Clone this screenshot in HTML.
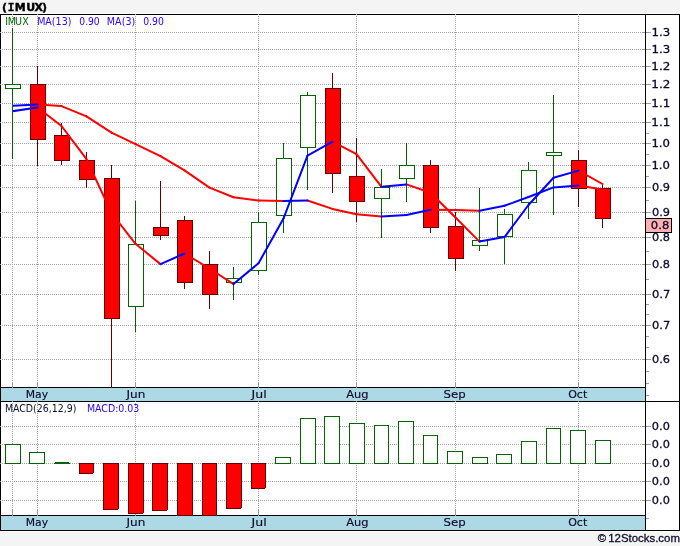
<!DOCTYPE html><html><head><meta charset="utf-8"><title>IMUX</title><style>html,body{margin:0;padding:0;background:#f4f4f4}svg{display:block}text{font-family:"DejaVu Sans","Liberation Sans",sans-serif}</style></head><body>
<svg width="680" height="546" viewBox="0 0 680 546">
<rect x="0" y="0" width="680" height="546" fill="#f4f4f4"/>
<rect x="0" y="13" width="680" height="519" fill="#ffffff"/>
<g shape-rendering="crispEdges">
<rect x="1" y="388" width="644" height="13" fill="#add8e6"/>
<rect x="1" y="516" width="644" height="14" fill="#add8e6"/>
<rect x="0" y="14" width="680" height="1" fill="#000"/>
<rect x="0" y="14" width="1" height="517" fill="#000"/>
<rect x="679" y="14" width="1" height="517" fill="#000"/>
<rect x="645" y="14" width="1" height="517" fill="#000"/>
<rect x="0" y="387" width="646" height="1" fill="#000"/>
<rect x="0" y="401" width="680" height="1" fill="#000"/>
<rect x="0" y="515" width="646" height="1" fill="#000"/>
<rect x="0" y="530" width="680" height="1" fill="#000"/>
<line x1="0" y1="32.5" x2="645" y2="32.5" stroke="#a0a0a0" stroke-width="1" stroke-dasharray="1,1"/>
<line x1="0" y1="49.5" x2="645" y2="49.5" stroke="#a0a0a0" stroke-width="1" stroke-dasharray="1,1"/>
<line x1="0" y1="66.5" x2="645" y2="66.5" stroke="#a0a0a0" stroke-width="1" stroke-dasharray="1,1"/>
<line x1="0" y1="84.5" x2="645" y2="84.5" stroke="#a0a0a0" stroke-width="1" stroke-dasharray="1,1"/>
<line x1="0" y1="103.5" x2="645" y2="103.5" stroke="#a0a0a0" stroke-width="1" stroke-dasharray="1,1"/>
<line x1="0" y1="122.5" x2="645" y2="122.5" stroke="#a0a0a0" stroke-width="1" stroke-dasharray="1,1"/>
<line x1="0" y1="143.5" x2="645" y2="143.5" stroke="#a0a0a0" stroke-width="1" stroke-dasharray="1,1"/>
<line x1="0" y1="165.5" x2="645" y2="165.5" stroke="#a0a0a0" stroke-width="1" stroke-dasharray="1,1"/>
<line x1="0" y1="187.5" x2="645" y2="187.5" stroke="#a0a0a0" stroke-width="1" stroke-dasharray="1,1"/>
<line x1="0" y1="212.5" x2="645" y2="212.5" stroke="#a0a0a0" stroke-width="1" stroke-dasharray="1,1"/>
<line x1="0" y1="237.5" x2="645" y2="237.5" stroke="#a0a0a0" stroke-width="1" stroke-dasharray="1,1"/>
<line x1="0" y1="264.5" x2="645" y2="264.5" stroke="#a0a0a0" stroke-width="1" stroke-dasharray="1,1"/>
<line x1="0" y1="294.5" x2="645" y2="294.5" stroke="#a0a0a0" stroke-width="1" stroke-dasharray="1,1"/>
<line x1="0" y1="325.5" x2="645" y2="325.5" stroke="#a0a0a0" stroke-width="1" stroke-dasharray="1,1"/>
<line x1="0" y1="359.5" x2="645" y2="359.5" stroke="#a0a0a0" stroke-width="1" stroke-dasharray="1,1"/>
<line x1="0" y1="426.5" x2="645" y2="426.5" stroke="#a0a0a0" stroke-width="1" stroke-dasharray="1,1"/>
<line x1="0" y1="444.5" x2="645" y2="444.5" stroke="#a0a0a0" stroke-width="1" stroke-dasharray="1,1"/>
<line x1="0" y1="463.5" x2="645" y2="463.5" stroke="#a0a0a0" stroke-width="1" stroke-dasharray="1,1"/>
<line x1="0" y1="481.5" x2="645" y2="481.5" stroke="#a0a0a0" stroke-width="1" stroke-dasharray="1,1"/>
<line x1="0" y1="500.5" x2="645" y2="500.5" stroke="#a0a0a0" stroke-width="1" stroke-dasharray="1,1"/>
<line x1="12.5" y1="14" x2="12.5" y2="382" stroke="#a0a0a0" stroke-width="1" stroke-dasharray="1,1"/>
<line x1="12.5" y1="403" x2="12.5" y2="509" stroke="#a0a0a0" stroke-width="1" stroke-dasharray="1,1"/>
<line x1="37.5" y1="14" x2="37.5" y2="382" stroke="#a0a0a0" stroke-width="1" stroke-dasharray="1,1"/>
<line x1="37.5" y1="403" x2="37.5" y2="509" stroke="#a0a0a0" stroke-width="1" stroke-dasharray="1,1"/>
<line x1="135.5" y1="14" x2="135.5" y2="382" stroke="#a0a0a0" stroke-width="1" stroke-dasharray="1,1"/>
<line x1="135.5" y1="403" x2="135.5" y2="509" stroke="#a0a0a0" stroke-width="1" stroke-dasharray="1,1"/>
<line x1="258.5" y1="14" x2="258.5" y2="382" stroke="#a0a0a0" stroke-width="1" stroke-dasharray="1,1"/>
<line x1="258.5" y1="403" x2="258.5" y2="509" stroke="#a0a0a0" stroke-width="1" stroke-dasharray="1,1"/>
<line x1="356.5" y1="14" x2="356.5" y2="382" stroke="#a0a0a0" stroke-width="1" stroke-dasharray="1,1"/>
<line x1="356.5" y1="403" x2="356.5" y2="509" stroke="#a0a0a0" stroke-width="1" stroke-dasharray="1,1"/>
<line x1="455.5" y1="14" x2="455.5" y2="382" stroke="#a0a0a0" stroke-width="1" stroke-dasharray="1,1"/>
<line x1="455.5" y1="403" x2="455.5" y2="509" stroke="#a0a0a0" stroke-width="1" stroke-dasharray="1,1"/>
<line x1="578.5" y1="14" x2="578.5" y2="382" stroke="#a0a0a0" stroke-width="1" stroke-dasharray="1,1"/>
<line x1="578.5" y1="403" x2="578.5" y2="509" stroke="#a0a0a0" stroke-width="1" stroke-dasharray="1,1"/>
<line x1="643" y1="32.5" x2="651" y2="32.5" stroke="#9c9c9c" stroke-width="1"/>
<line x1="643" y1="49.5" x2="651" y2="49.5" stroke="#9c9c9c" stroke-width="1"/>
<line x1="643" y1="66.5" x2="651" y2="66.5" stroke="#9c9c9c" stroke-width="1"/>
<line x1="643" y1="84.5" x2="651" y2="84.5" stroke="#9c9c9c" stroke-width="1"/>
<line x1="643" y1="103.5" x2="651" y2="103.5" stroke="#9c9c9c" stroke-width="1"/>
<line x1="643" y1="122.5" x2="651" y2="122.5" stroke="#9c9c9c" stroke-width="1"/>
<line x1="643" y1="143.5" x2="651" y2="143.5" stroke="#9c9c9c" stroke-width="1"/>
<line x1="643" y1="165.5" x2="651" y2="165.5" stroke="#9c9c9c" stroke-width="1"/>
<line x1="643" y1="187.5" x2="651" y2="187.5" stroke="#9c9c9c" stroke-width="1"/>
<line x1="643" y1="212.5" x2="651" y2="212.5" stroke="#9c9c9c" stroke-width="1"/>
<line x1="643" y1="237.5" x2="651" y2="237.5" stroke="#9c9c9c" stroke-width="1"/>
<line x1="643" y1="264.5" x2="651" y2="264.5" stroke="#9c9c9c" stroke-width="1"/>
<line x1="643" y1="294.5" x2="651" y2="294.5" stroke="#9c9c9c" stroke-width="1"/>
<line x1="643" y1="325.5" x2="651" y2="325.5" stroke="#9c9c9c" stroke-width="1"/>
<line x1="643" y1="359.5" x2="651" y2="359.5" stroke="#9c9c9c" stroke-width="1"/>
<line x1="643" y1="426.5" x2="651" y2="426.5" stroke="#9c9c9c" stroke-width="1"/>
<line x1="643" y1="444.5" x2="651" y2="444.5" stroke="#9c9c9c" stroke-width="1"/>
<line x1="643" y1="463.5" x2="651" y2="463.5" stroke="#9c9c9c" stroke-width="1"/>
<line x1="643" y1="481.5" x2="651" y2="481.5" stroke="#9c9c9c" stroke-width="1"/>
<line x1="643" y1="500.5" x2="651" y2="500.5" stroke="#9c9c9c" stroke-width="1"/>
<line x1="646" y1="133.5" x2="649" y2="133.5" stroke="#9c9c9c" stroke-width="1"/>
<line x1="646" y1="154.5" x2="649" y2="154.5" stroke="#9c9c9c" stroke-width="1"/>
<line x1="646" y1="176.5" x2="649" y2="176.5" stroke="#9c9c9c" stroke-width="1"/>
<line x1="646" y1="200.5" x2="649" y2="200.5" stroke="#9c9c9c" stroke-width="1"/>
<line x1="646" y1="251.5" x2="649" y2="251.5" stroke="#9c9c9c" stroke-width="1"/>
<line x1="646" y1="279.5" x2="649" y2="279.5" stroke="#9c9c9c" stroke-width="1"/>
<line x1="646" y1="304.5" x2="649" y2="304.5" stroke="#9c9c9c" stroke-width="1"/>
<line x1="646" y1="314.5" x2="649" y2="314.5" stroke="#9c9c9c" stroke-width="1"/>
<line x1="646" y1="336.5" x2="649" y2="336.5" stroke="#9c9c9c" stroke-width="1"/>
<line x1="646" y1="347.5" x2="649" y2="347.5" stroke="#9c9c9c" stroke-width="1"/>
<line x1="646" y1="371.5" x2="649" y2="371.5" stroke="#9c9c9c" stroke-width="1"/>
<line x1="646" y1="383.5" x2="649" y2="383.5" stroke="#9c9c9c" stroke-width="1"/>
<line x1="646" y1="395.5" x2="649" y2="395.5" stroke="#9c9c9c" stroke-width="1"/>
<line x1="646" y1="518.5" x2="649" y2="518.5" stroke="#9c9c9c" stroke-width="1"/>
<rect x="645" y="14" width="1" height="517" fill="#000"/>
<rect x="12" y="382" width="1" height="6" fill="#9c9c9c"/>
<rect x="12" y="401" width="1" height="1" fill="#9c9c9c"/>
<rect x="12" y="509" width="1" height="7" fill="#9c9c9c"/>
<rect x="37" y="382" width="1" height="6" fill="#9c9c9c"/>
<rect x="37" y="401" width="1" height="1" fill="#9c9c9c"/>
<rect x="37" y="509" width="1" height="7" fill="#9c9c9c"/>
<rect x="135" y="382" width="1" height="6" fill="#9c9c9c"/>
<rect x="135" y="401" width="1" height="1" fill="#9c9c9c"/>
<rect x="135" y="509" width="1" height="7" fill="#9c9c9c"/>
<rect x="258" y="382" width="1" height="6" fill="#9c9c9c"/>
<rect x="258" y="401" width="1" height="1" fill="#9c9c9c"/>
<rect x="258" y="509" width="1" height="7" fill="#9c9c9c"/>
<rect x="356" y="382" width="1" height="6" fill="#9c9c9c"/>
<rect x="356" y="401" width="1" height="1" fill="#9c9c9c"/>
<rect x="356" y="509" width="1" height="7" fill="#9c9c9c"/>
<rect x="455" y="382" width="1" height="6" fill="#9c9c9c"/>
<rect x="455" y="401" width="1" height="1" fill="#9c9c9c"/>
<rect x="455" y="509" width="1" height="7" fill="#9c9c9c"/>
<rect x="578" y="382" width="1" height="6" fill="#9c9c9c"/>
<rect x="578" y="401" width="1" height="1" fill="#9c9c9c"/>
<rect x="578" y="509" width="1" height="7" fill="#9c9c9c"/>
</g>
<g shape-rendering="crispEdges">
<rect x="12" y="28" width="1" height="131" fill="#006400"/>
<rect x="5.5" y="84.5" width="15" height="4" fill="#fff" stroke="#006400" stroke-width="1"/>
<rect x="37" y="66" width="1" height="100" fill="#660000"/>
<rect x="30.5" y="84.5" width="15" height="55" fill="#ff0000" stroke="#660000" stroke-width="1"/>
<rect x="61" y="123" width="1" height="42" fill="#660000"/>
<rect x="54.5" y="135.5" width="15" height="25" fill="#ff0000" stroke="#660000" stroke-width="1"/>
<rect x="86" y="152" width="1" height="36" fill="#660000"/>
<rect x="79.5" y="160.5" width="15" height="19" fill="#ff0000" stroke="#660000" stroke-width="1"/>
<rect x="111" y="165" width="1" height="223" fill="#660000"/>
<rect x="104.5" y="178.5" width="15" height="140" fill="#ff0000" stroke="#660000" stroke-width="1"/>
<rect x="135" y="201" width="1" height="131" fill="#006400"/>
<rect x="128.5" y="244.5" width="15" height="62" fill="#fff" stroke="#006400" stroke-width="1"/>
<rect x="160" y="181" width="1" height="59" fill="#660000"/>
<rect x="153.5" y="227.5" width="15" height="8" fill="#ff0000" stroke="#660000" stroke-width="1"/>
<rect x="184" y="216" width="1" height="73" fill="#660000"/>
<rect x="177.5" y="220.5" width="15" height="62" fill="#ff0000" stroke="#660000" stroke-width="1"/>
<rect x="209" y="251" width="1" height="58" fill="#660000"/>
<rect x="202.5" y="264.5" width="15" height="30" fill="#ff0000" stroke="#660000" stroke-width="1"/>
<rect x="233" y="267" width="1" height="33" fill="#006400"/>
<rect x="226.5" y="278.5" width="15" height="4" fill="#fff" stroke="#006400" stroke-width="1"/>
<rect x="258" y="212" width="1" height="63" fill="#006400"/>
<rect x="251.5" y="222.5" width="15" height="48" fill="#fff" stroke="#006400" stroke-width="1"/>
<rect x="283" y="143" width="1" height="90" fill="#006400"/>
<rect x="276.5" y="158.5" width="15" height="57" fill="#fff" stroke="#006400" stroke-width="1"/>
<rect x="307" y="92" width="1" height="98" fill="#006400"/>
<rect x="300.5" y="95.5" width="15" height="52" fill="#fff" stroke="#006400" stroke-width="1"/>
<rect x="332" y="73" width="1" height="120" fill="#660000"/>
<rect x="325.5" y="88.5" width="15" height="85" fill="#ff0000" stroke="#660000" stroke-width="1"/>
<rect x="356" y="138" width="1" height="84" fill="#660000"/>
<rect x="349.5" y="176.5" width="15" height="25" fill="#ff0000" stroke="#660000" stroke-width="1"/>
<rect x="381" y="169" width="1" height="69" fill="#006400"/>
<rect x="374.5" y="187.5" width="15" height="11" fill="#fff" stroke="#006400" stroke-width="1"/>
<rect x="406" y="143" width="1" height="59" fill="#006400"/>
<rect x="399.5" y="165.5" width="15" height="13" fill="#fff" stroke="#006400" stroke-width="1"/>
<rect x="430" y="160" width="1" height="73" fill="#660000"/>
<rect x="423.5" y="165.5" width="15" height="62" fill="#ff0000" stroke="#660000" stroke-width="1"/>
<rect x="455" y="212" width="1" height="59" fill="#660000"/>
<rect x="448.5" y="226.5" width="15" height="32" fill="#ff0000" stroke="#660000" stroke-width="1"/>
<rect x="479" y="188" width="1" height="63" fill="#006400"/>
<rect x="472.5" y="240.5" width="15" height="5" fill="#fff" stroke="#006400" stroke-width="1"/>
<rect x="504" y="209" width="1" height="55" fill="#006400"/>
<rect x="497.5" y="214.5" width="15" height="22" fill="#fff" stroke="#006400" stroke-width="1"/>
<rect x="528" y="162" width="1" height="57" fill="#006400"/>
<rect x="521.5" y="170.5" width="15" height="32" fill="#fff" stroke="#006400" stroke-width="1"/>
<rect x="553" y="95" width="1" height="120" fill="#006400"/>
<rect x="546.5" y="152.5" width="15" height="3" fill="#fff" stroke="#006400" stroke-width="1"/>
<rect x="578" y="150" width="1" height="57" fill="#660000"/>
<rect x="571.5" y="160.5" width="15" height="28" fill="#ff0000" stroke="#660000" stroke-width="1"/>
<rect x="602" y="183" width="1" height="45" fill="#660000"/>
<rect x="595.5" y="188.5" width="15" height="30" fill="#ff0000" stroke="#660000" stroke-width="1"/>
</g>
<clipPath id="lc"><rect x="13" y="15" width="591" height="372"/></clipPath><g clip-path="url(#lc)">
<line x1="37.5" y1="104.6" x2="61.5" y2="106.1" stroke="#ff0000" stroke-width="2" stroke-linecap="round"/>
<line x1="61.5" y1="106.1" x2="86.5" y2="116.4" stroke="#ff0000" stroke-width="2" stroke-linecap="round"/>
<line x1="86.5" y1="116.4" x2="111.5" y2="132.6" stroke="#ff0000" stroke-width="2" stroke-linecap="round"/>
<line x1="111.5" y1="132.6" x2="135.5" y2="144.1" stroke="#ff0000" stroke-width="2" stroke-linecap="round"/>
<line x1="135.5" y1="144.1" x2="160.5" y2="156.1" stroke="#ff0000" stroke-width="2" stroke-linecap="round"/>
<line x1="160.5" y1="156.1" x2="184.5" y2="170.4" stroke="#ff0000" stroke-width="2" stroke-linecap="round"/>
<line x1="184.5" y1="170.4" x2="209.5" y2="187.6" stroke="#ff0000" stroke-width="2" stroke-linecap="round"/>
<line x1="209.5" y1="187.6" x2="233.5" y2="197.3" stroke="#ff0000" stroke-width="2" stroke-linecap="round"/>
<line x1="233.5" y1="197.3" x2="258.5" y2="200.6" stroke="#ff0000" stroke-width="2" stroke-linecap="round"/>
<line x1="258.5" y1="200.6" x2="283.5" y2="201.1" stroke="#ff0000" stroke-width="2" stroke-linecap="round"/>
<line x1="307.5" y1="200.5" x2="332.5" y2="208.9" stroke="#ff0000" stroke-width="2" stroke-linecap="round"/>
<line x1="332.5" y1="208.9" x2="356.5" y2="214.2" stroke="#ff0000" stroke-width="2" stroke-linecap="round"/>
<line x1="356.5" y1="214.2" x2="381.5" y2="216.5" stroke="#ff0000" stroke-width="2" stroke-linecap="round"/>
<line x1="430.5" y1="209.8" x2="455.5" y2="210.1" stroke="#ff0000" stroke-width="2" stroke-linecap="round"/>
<line x1="455.5" y1="210.1" x2="479.5" y2="210.7" stroke="#ff0000" stroke-width="2" stroke-linecap="round"/>
<line x1="578.5" y1="185.6" x2="602.5" y2="189.5" stroke="#ff0000" stroke-width="2" stroke-linecap="round"/>
<line x1="37.5" y1="107.5" x2="61.5" y2="126" stroke="#ff0000" stroke-width="2" stroke-linecap="round"/>
<line x1="61.5" y1="126" x2="86.5" y2="159.1" stroke="#ff0000" stroke-width="2" stroke-linecap="round"/>
<line x1="86.5" y1="159.1" x2="111.5" y2="213" stroke="#ff0000" stroke-width="2" stroke-linecap="round"/>
<line x1="111.5" y1="213" x2="135.5" y2="243.8" stroke="#ff0000" stroke-width="2" stroke-linecap="round"/>
<line x1="135.5" y1="243.8" x2="160.5" y2="264.1" stroke="#ff0000" stroke-width="2" stroke-linecap="round"/>
<line x1="184.5" y1="253.5" x2="209.5" y2="268.5" stroke="#ff0000" stroke-width="2" stroke-linecap="round"/>
<line x1="209.5" y1="268.5" x2="233.5" y2="284.1" stroke="#ff0000" stroke-width="2" stroke-linecap="round"/>
<line x1="332.5" y1="141.7" x2="356.5" y2="154.2" stroke="#ff0000" stroke-width="2" stroke-linecap="round"/>
<line x1="356.5" y1="154.2" x2="381.5" y2="186.8" stroke="#ff0000" stroke-width="2" stroke-linecap="round"/>
<line x1="406.5" y1="184.4" x2="430.5" y2="192.7" stroke="#ff0000" stroke-width="2" stroke-linecap="round"/>
<line x1="430.5" y1="192.7" x2="455.5" y2="217.5" stroke="#ff0000" stroke-width="2" stroke-linecap="round"/>
<line x1="455.5" y1="217.5" x2="479.5" y2="241.6" stroke="#ff0000" stroke-width="2" stroke-linecap="round"/>
<line x1="578.5" y1="170.6" x2="602.5" y2="184" stroke="#ff0000" stroke-width="2" stroke-linecap="round"/>
<line x1="12.5" y1="105.8" x2="37.5" y2="104.6" stroke="#0000ff" stroke-width="2" stroke-linecap="round"/>
<line x1="283.5" y1="201.1" x2="307.5" y2="200.5" stroke="#0000ff" stroke-width="2" stroke-linecap="round"/>
<line x1="381.5" y1="216.5" x2="406.5" y2="215.0" stroke="#0000ff" stroke-width="2" stroke-linecap="round"/>
<line x1="406.5" y1="215.0" x2="430.5" y2="209.8" stroke="#0000ff" stroke-width="2" stroke-linecap="round"/>
<line x1="479.5" y1="210.7" x2="504.5" y2="205.8" stroke="#0000ff" stroke-width="2" stroke-linecap="round"/>
<line x1="504.5" y1="205.8" x2="528.5" y2="197" stroke="#0000ff" stroke-width="2" stroke-linecap="round"/>
<line x1="528.5" y1="197" x2="553.5" y2="187.4" stroke="#0000ff" stroke-width="2" stroke-linecap="round"/>
<line x1="553.5" y1="187.4" x2="578.5" y2="185.6" stroke="#0000ff" stroke-width="2" stroke-linecap="round"/>
<line x1="12.5" y1="111.2" x2="37.5" y2="107.5" stroke="#0000ff" stroke-width="2" stroke-linecap="round"/>
<line x1="160.5" y1="264.1" x2="184.5" y2="253.5" stroke="#0000ff" stroke-width="2" stroke-linecap="round"/>
<line x1="233.5" y1="284.1" x2="258.5" y2="263.3" stroke="#0000ff" stroke-width="2" stroke-linecap="round"/>
<line x1="258.5" y1="263.3" x2="283.5" y2="218.5" stroke="#0000ff" stroke-width="2" stroke-linecap="round"/>
<line x1="283.5" y1="218.5" x2="307.5" y2="155.7" stroke="#0000ff" stroke-width="2" stroke-linecap="round"/>
<line x1="307.5" y1="155.7" x2="332.5" y2="141.7" stroke="#0000ff" stroke-width="2" stroke-linecap="round"/>
<line x1="381.5" y1="186.8" x2="406.5" y2="184.4" stroke="#0000ff" stroke-width="2" stroke-linecap="round"/>
<line x1="479.5" y1="241.6" x2="504.5" y2="237.1" stroke="#0000ff" stroke-width="2" stroke-linecap="round"/>
<line x1="504.5" y1="237.1" x2="528.5" y2="205" stroke="#0000ff" stroke-width="2" stroke-linecap="round"/>
<line x1="528.5" y1="205" x2="553.5" y2="177.7" stroke="#0000ff" stroke-width="2" stroke-linecap="round"/>
<line x1="553.5" y1="177.7" x2="578.5" y2="170.6" stroke="#0000ff" stroke-width="2" stroke-linecap="round"/>
</g>
<g shape-rendering="crispEdges">
<rect x="5.5" y="444.5" width="15" height="19" fill="#fff" stroke="#006400" stroke-width="1"/>
<rect x="29.5" y="452.5" width="15" height="11" fill="#fff" stroke="#006400" stroke-width="1"/>
<rect x="55" y="462" width="14" height="1" fill="#006400"/><rect x="54" y="463" width="16" height="1" fill="#006400"/>
<rect x="79.5" y="463.5" width="14" height="10" fill="#ff0000" stroke="#660000" stroke-width="1"/>
<rect x="93" y="473" width="1" height="1" fill="#fff"/>
<rect x="103.5" y="463.5" width="15" height="46" fill="#ff0000" stroke="#660000" stroke-width="1"/>
<rect x="118" y="509" width="1" height="1" fill="#fff"/>
<rect x="128.5" y="463.5" width="15" height="50" fill="#ff0000" stroke="#660000" stroke-width="1"/>
<rect x="143" y="513" width="1" height="1" fill="#fff"/>
<rect x="152.5" y="463.5" width="15" height="47" fill="#ff0000" stroke="#660000" stroke-width="1"/>
<rect x="167" y="510" width="1" height="1" fill="#fff"/>
<rect x="177.5" y="463.5" width="15" height="52" fill="#ff0000" stroke="#660000" stroke-width="1"/>
<rect x="202.5" y="463.5" width="14" height="52" fill="#ff0000" stroke="#660000" stroke-width="1"/>
<rect x="226.5" y="463.5" width="15" height="45" fill="#ff0000" stroke="#660000" stroke-width="1"/>
<rect x="241" y="508" width="1" height="1" fill="#fff"/>
<rect x="251.5" y="463.5" width="14" height="25" fill="#ff0000" stroke="#660000" stroke-width="1"/>
<rect x="265" y="488" width="1" height="1" fill="#fff"/>
<rect x="275.5" y="457.5" width="15" height="6" fill="#fff" stroke="#006400" stroke-width="1"/>
<rect x="300.5" y="418.5" width="15" height="45" fill="#fff" stroke="#006400" stroke-width="1"/>
<rect x="324.5" y="416.5" width="15" height="47" fill="#fff" stroke="#006400" stroke-width="1"/>
<rect x="349.5" y="423.5" width="15" height="40" fill="#fff" stroke="#006400" stroke-width="1"/>
<rect x="374.5" y="425.5" width="14" height="38" fill="#fff" stroke="#006400" stroke-width="1"/>
<rect x="398.5" y="421.5" width="15" height="42" fill="#fff" stroke="#006400" stroke-width="1"/>
<rect x="423.5" y="435.5" width="14" height="28" fill="#fff" stroke="#006400" stroke-width="1"/>
<rect x="447.5" y="451.5" width="15" height="12" fill="#fff" stroke="#006400" stroke-width="1"/>
<rect x="472.5" y="457.5" width="15" height="6" fill="#fff" stroke="#006400" stroke-width="1"/>
<rect x="496.5" y="454.5" width="15" height="9" fill="#fff" stroke="#006400" stroke-width="1"/>
<rect x="521.5" y="441.5" width="15" height="22" fill="#fff" stroke="#006400" stroke-width="1"/>
<rect x="546.5" y="428.5" width="14" height="35" fill="#fff" stroke="#006400" stroke-width="1"/>
<rect x="570.5" y="430.5" width="15" height="33" fill="#fff" stroke="#006400" stroke-width="1"/>
<rect x="595.5" y="440.5" width="15" height="23" fill="#fff" stroke="#006400" stroke-width="1"/>
</g>
<g shape-rendering="crispEdges"><rect x="645.5" y="218.5" width="26" height="14" fill="#ffb0b0" stroke="#000" stroke-width="1"/></g>
<text x="2.05 7.74 14.63 26.23 34.61 42.07" y="11" font-size="11" font-weight="bold" fill="#000" stroke="#000" stroke-width="0.4">(<tspan font-family="DejaVu Sans Mono, Liberation Mono, monospace">I</tspan>MUX)</text>
<text x="5.13 7.73 14.99 22.17" y="25.2" font-size="9.6" fill="#006400">IMUX</text>
<text x="37.17" y="25.2" font-size="9.6" fill="#2a00ff" stroke="#2a00ff" stroke-width="0" textLength="34.25" lengthAdjust="spacingAndGlyphs">MA(13)</text>
<text x="79.30" y="25.2" font-size="9.6" fill="#2a00ff" stroke="#2a00ff" stroke-width="0" textLength="20.41" lengthAdjust="spacingAndGlyphs">0.90</text>
<text x="106.86" y="25.2" font-size="9.6" fill="#2a00ff" stroke="#2a00ff" stroke-width="0" textLength="28.36" lengthAdjust="spacingAndGlyphs">MA(3)</text>
<text x="143.19" y="25.2" font-size="9.6" fill="#2a00ff" stroke="#2a00ff" stroke-width="0" textLength="20.73" lengthAdjust="spacingAndGlyphs">0.90</text>
<text x="4.88" y="412" font-size="9.6" fill="#0c0c2c" stroke="#0c0c2c" stroke-width="0" textLength="71.53" lengthAdjust="spacingAndGlyphs">MACD(26,12,9)</text>
<text x="86.88" y="412" font-size="9.6" fill="#2a00ff" stroke="#2a00ff" stroke-width="0" textLength="52.48" lengthAdjust="spacingAndGlyphs">MACD:0.03</text>
<text x="651.41" y="36" font-size="11" fill="#0c0c2c" stroke="#0c0c2c" stroke-width="0.3" textLength="18.74" lengthAdjust="spacingAndGlyphs">1.3</text>
<text x="651.41" y="53" font-size="11" fill="#0c0c2c" stroke="#0c0c2c" stroke-width="0.3" textLength="18.74" lengthAdjust="spacingAndGlyphs">1.3</text>
<text x="651.39" y="70" font-size="11" fill="#0c0c2c" stroke="#0c0c2c" stroke-width="0.3" textLength="19.01" lengthAdjust="spacingAndGlyphs">1.2</text>
<text x="651.39" y="88" font-size="11" fill="#0c0c2c" stroke="#0c0c2c" stroke-width="0.3" textLength="19.01" lengthAdjust="spacingAndGlyphs">1.2</text>
<text x="651.39" y="107" font-size="11" fill="#0c0c2c" stroke="#0c0c2c" stroke-width="0.3" textLength="18.90" lengthAdjust="spacingAndGlyphs">1.1</text>
<text x="651.39" y="126" font-size="11" fill="#0c0c2c" stroke="#0c0c2c" stroke-width="0.3" textLength="18.90" lengthAdjust="spacingAndGlyphs">1.1</text>
<text x="651.42" y="147" font-size="11" fill="#0c0c2c" stroke="#0c0c2c" stroke-width="0.3" textLength="18.56" lengthAdjust="spacingAndGlyphs">1.0</text>
<text x="651.42" y="169" font-size="11" fill="#0c0c2c" stroke="#0c0c2c" stroke-width="0.3" textLength="18.56" lengthAdjust="spacingAndGlyphs">1.0</text>
<text x="651.95" y="191" font-size="11" fill="#0c0c2c" stroke="#0c0c2c" stroke-width="0.3" textLength="18.05" lengthAdjust="spacingAndGlyphs">0.9</text>
<text x="651.95" y="216" font-size="11" fill="#0c0c2c" stroke="#0c0c2c" stroke-width="0.3" textLength="18.05" lengthAdjust="spacingAndGlyphs">0.9</text>
<text x="651.95" y="241" font-size="11" fill="#0c0c2c" stroke="#0c0c2c" stroke-width="0.3" textLength="18.02" lengthAdjust="spacingAndGlyphs">0.8</text>
<text x="651.95" y="268" font-size="11" fill="#0c0c2c" stroke="#0c0c2c" stroke-width="0.3" textLength="18.02" lengthAdjust="spacingAndGlyphs">0.8</text>
<text x="651.94" y="298" font-size="11" fill="#0c0c2c" stroke="#0c0c2c" stroke-width="0.3" textLength="18.24" lengthAdjust="spacingAndGlyphs">0.7</text>
<text x="651.94" y="329" font-size="11" fill="#0c0c2c" stroke="#0c0c2c" stroke-width="0.3" textLength="18.24" lengthAdjust="spacingAndGlyphs">0.7</text>
<text x="651.96" y="363" font-size="11" fill="#0c0c2c" stroke="#0c0c2c" stroke-width="0.3" textLength="17.96" lengthAdjust="spacingAndGlyphs">0.6</text>
<text x="651.85" y="430" font-size="11" fill="#0c0c2c" stroke="#0c0c2c" stroke-width="0.3" textLength="18.00" lengthAdjust="spacingAndGlyphs">0.0</text>
<text x="651.85" y="448" font-size="11" fill="#0c0c2c" stroke="#0c0c2c" stroke-width="0.3" textLength="18.00" lengthAdjust="spacingAndGlyphs">0.0</text>
<text x="651.85" y="467" font-size="11" fill="#0c0c2c" stroke="#0c0c2c" stroke-width="0.3" textLength="18.00" lengthAdjust="spacingAndGlyphs">0.0</text>
<text x="651.85" y="485" font-size="11" fill="#0c0c2c" stroke="#0c0c2c" stroke-width="0.3" textLength="18.00" lengthAdjust="spacingAndGlyphs">0.0</text>
<text x="651.85" y="504" font-size="11" fill="#0c0c2c" stroke="#0c0c2c" stroke-width="0.3" textLength="18.00" lengthAdjust="spacingAndGlyphs">0.0</text>
<text x="650.83" y="229" font-size="11" fill="#0c0c2c" stroke="#0c0c2c" stroke-width="0.3" textLength="18.46" lengthAdjust="spacingAndGlyphs">0.8</text>
<text x="25.74" y="398" font-size="11" fill="#0c0c2c" stroke="#0c0c2c" stroke-width="0.15" textLength="22.28" lengthAdjust="spacingAndGlyphs">May</text>
<text x="25.74" y="526" font-size="11" fill="#0c0c2c" stroke="#0c0c2c" stroke-width="0.15" textLength="22.28" lengthAdjust="spacingAndGlyphs">May</text>
<text x="126.53" y="398" font-size="11" fill="#0c0c2c" stroke="#0c0c2c" stroke-width="0.15" textLength="18.90" lengthAdjust="spacingAndGlyphs">Jun</text>
<text x="126.53" y="526" font-size="11" fill="#0c0c2c" stroke="#0c0c2c" stroke-width="0.15" textLength="18.90" lengthAdjust="spacingAndGlyphs">Jun</text>
<text x="251.55" y="398" font-size="11" fill="#0c0c2c" stroke="#0c0c2c" stroke-width="0.15" textLength="15.13" lengthAdjust="spacingAndGlyphs">Jul</text>
<text x="251.55" y="526" font-size="11" fill="#0c0c2c" stroke="#0c0c2c" stroke-width="0.15" textLength="15.13" lengthAdjust="spacingAndGlyphs">Jul</text>
<text x="346.21" y="398" font-size="11" fill="#0c0c2c" stroke="#0c0c2c" stroke-width="0.15" textLength="22.33" lengthAdjust="spacingAndGlyphs">Aug</text>
<text x="346.21" y="526" font-size="11" fill="#0c0c2c" stroke="#0c0c2c" stroke-width="0.15" textLength="22.33" lengthAdjust="spacingAndGlyphs">Aug</text>
<text x="443.53" y="398" font-size="11" fill="#0c0c2c" stroke="#0c0c2c" stroke-width="0.15" textLength="22.12" lengthAdjust="spacingAndGlyphs">Sep</text>
<text x="443.53" y="526" font-size="11" fill="#0c0c2c" stroke="#0c0c2c" stroke-width="0.15" textLength="22.12" lengthAdjust="spacingAndGlyphs">Sep</text>
<text x="568.18" y="398" font-size="11" fill="#0c0c2c" stroke="#0c0c2c" stroke-width="0.15" textLength="19.08" lengthAdjust="spacingAndGlyphs">Oct</text>
<text x="568.18" y="526" font-size="11" fill="#0c0c2c" stroke="#0c0c2c" stroke-width="0.15" textLength="19.08" lengthAdjust="spacingAndGlyphs">Oct</text>
<text y="542" font-size="11.5" fill="#0c0c2c" stroke="#0c0c2c" stroke-width="0.3" style="font-family:'Liberation Sans',sans-serif"><tspan x="597.73" textLength="8.35" lengthAdjust="spacingAndGlyphs">©</tspan><tspan x="608.23" textLength="71.72" lengthAdjust="spacingAndGlyphs">12Stocks.com</tspan></text>
</svg></body></html>
